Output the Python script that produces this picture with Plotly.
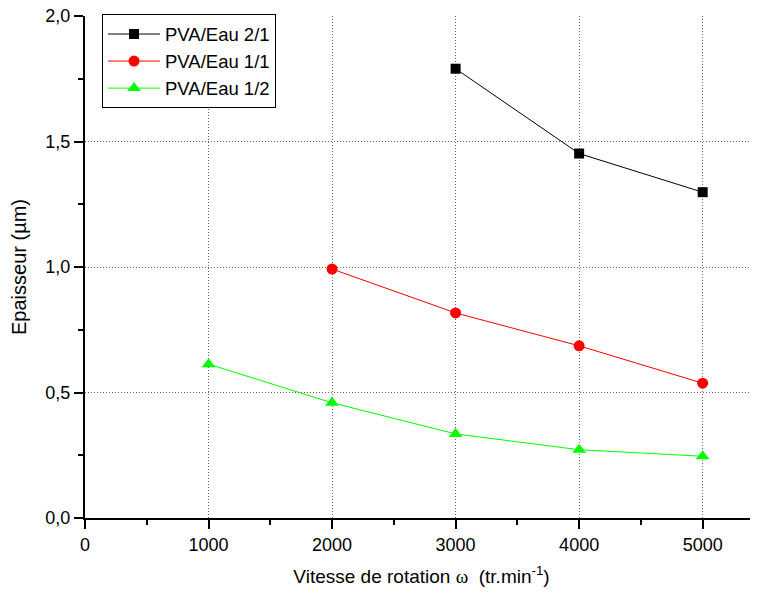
import plotly.graph_objects as go

x_black = [3000, 4000, 5000]
y_black = [1.79, 1.452, 1.298]
x_red = [2000, 3000, 4000, 5000]
y_red = [0.992, 0.817, 0.686, 0.537]
x_green = [1000, 2000, 3000, 4000, 5000]
y_green = [0.613, 0.459, 0.335, 0.272, 0.246]

x_ticks = [0, 1000, 2000, 3000, 4000, 5000]
x_ticktext = ["0", "1000", "2000", "3000", "4000", "5000"]
y_ticks = [0.0, 0.5, 1.0, 1.5, 2.0]
y_ticktext = ["0,0", "0,5", "1,0", "1,5", "2,0"]

fig = go.Figure()
fig.add_trace(go.Scatter(x=x_black, y=y_black, name="PVA/Eau 2/1", mode="lines+markers",
                         line=dict(color="black", width=1),
                         marker=dict(symbol="square", size=10, color="black")))
fig.add_trace(go.Scatter(x=x_red, y=y_red, name="PVA/Eau 1/1", mode="lines+markers",
                         line=dict(color="#ff0000", width=1),
                         marker=dict(symbol="circle", size=11, color="#ff0000")))
fig.add_trace(go.Scatter(x=x_green, y=y_green, name="PVA/Eau 1/2", mode="lines+markers",
                         line=dict(color="#00ff00", width=1),
                         marker=dict(symbol="triangle-up", size=12, color="#00ff00")))

font = "Liberation Sans, Arial, sans-serif"
grid = dict(showgrid=True, gridcolor="#666666", griddash="1px,2px", gridwidth=1)
fig.update_layout(
    width=750, height=580,
    margin=dict(l=77, r=0, t=8, b=70),
    paper_bgcolor="white", plot_bgcolor="white",
    font=dict(family=font, color="black", size=18),
    showlegend=True,
    legend=dict(x=0.0253, y=1.003, xanchor="left", yanchor="top",
                bordercolor="black", borderwidth=1, bgcolor="white",
                itemwidth=52,
                font=dict(size=18.5, family=font)),
    xaxis=dict(range=[0, 5448], tickvals=x_ticks, ticktext=x_ticktext,
               showline=True, linecolor="black", linewidth=2, automargin=False,
               ticks="outside", ticklen=9, tickwidth=2, tickcolor="black",
               ticklabeloverflow="allow",
               minor=dict(ticks="outside", ticklen=5, tickwidth=2, tickcolor="black", dtick=500, showgrid=False),
               zeroline=False, **grid,
               title=dict(text="Vitesse de rotation <span style='font-family:serif'>ω</span>  (tr.min<sup>-1</sup>)",
                          font=dict(size=19), standoff=16)),
    yaxis=dict(range=[0, 2.0], tickvals=y_ticks, ticktext=y_ticktext,
               showline=True, linecolor="black", linewidth=2, automargin=False,
               ticks="outside", ticklen=9, tickwidth=2, tickcolor="black",
               ticklabeloverflow="allow",
               minor=dict(ticks="outside", ticklen=5, tickwidth=2, tickcolor="black", dtick=0.25, showgrid=False),
               zeroline=False, **grid,
               title=dict(text="Epaisseur (µm)", font=dict(size=20), standoff=23)),
)
fig.write_html("out.html")
